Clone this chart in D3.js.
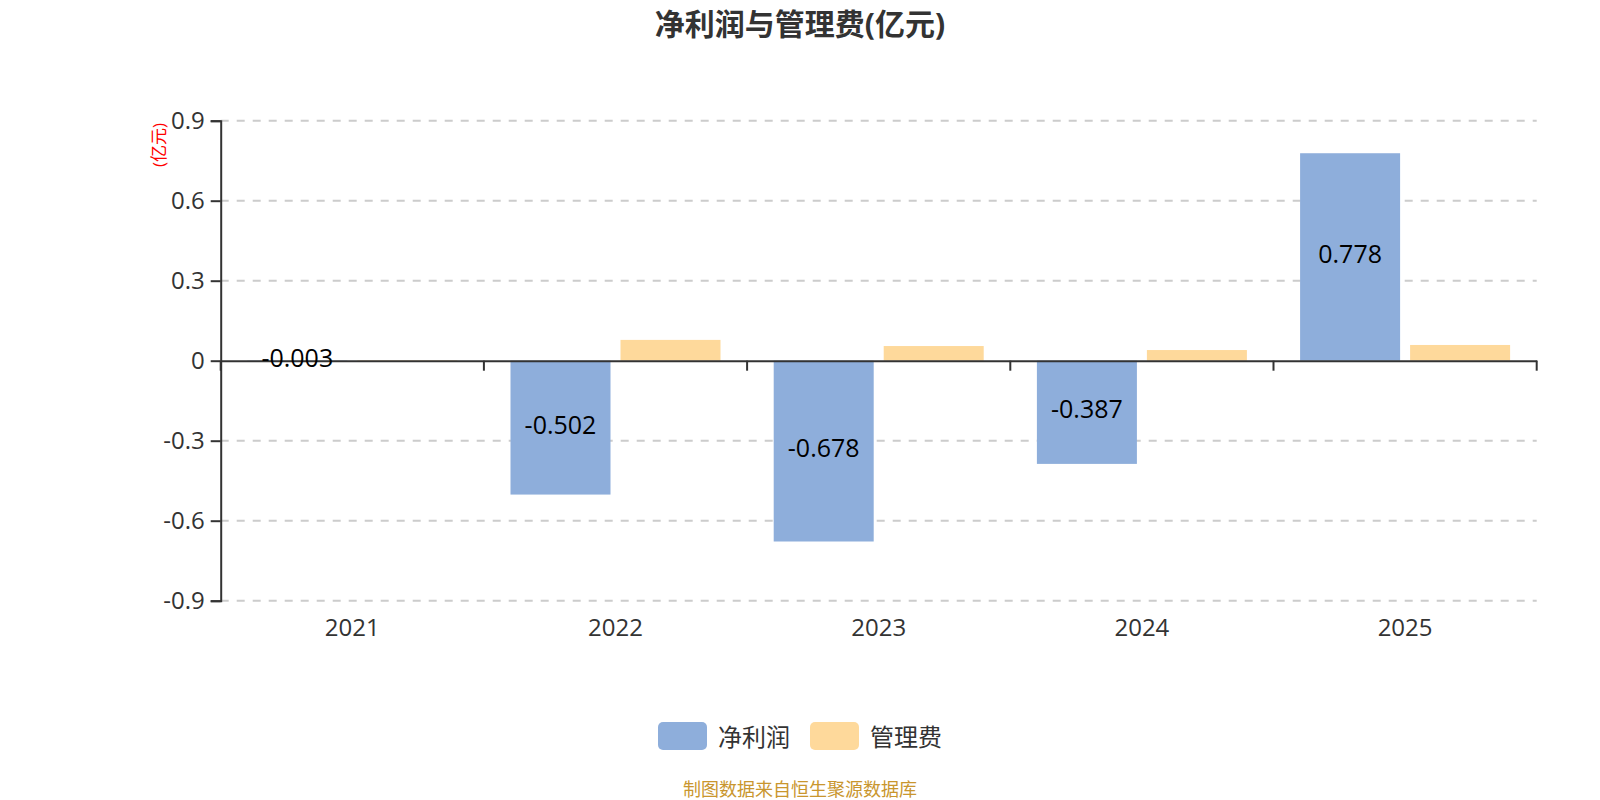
<!DOCTYPE html>
<html>
<head>
<meta charset="utf-8">
<script src="https://cdn.jsdelivr.net/npm/d3@7/dist/d3.min.js"></script>
<style>
  html, body { margin: 0; padding: 0; background: #fff; }
  svg { display: block; }
  text { font-family: "Open Sans", "Noto Sans CJK SC", sans-serif; }
</style>
</head>
<body>
<svg id="chart" width="1600" height="800"></svg>
<script>
const categories = ["2021", "2022", "2023", "2024", "2025"];
const seriesNames = ["净利润", "管理费"];
const netProfit = [-0.003, -0.502, -0.678, -0.387, 0.778];
const adminFee = [0.002, 0.078, 0.055, 0.040, 0.059];
const yTicks = [-0.9, -0.6, -0.3, 0, 0.3, 0.6, 0.9];
const titleText = "净利润与管理费(亿元)";
const unitText = "(亿元)";
const sourceText = "制图数据来自恒生聚源数据库";
const colors = ["#8eaedb", "#fed99b"];

const hy = s => s.replace("\u2212", "-");
const svg = d3.select("#chart");
const margin = { left: 220.7, right: 1536.7, top: 120.7, bottom: 600.7 };

const x0 = d3.scaleBand().domain(categories).range([margin.left, margin.right]).padding(0);
const x1 = d3.scaleBand().domain(seriesNames).range([0, x0.bandwidth()])
  .paddingInner(0.0909).paddingOuter(0.2418);
const y = d3.scaleLinear().domain([-0.9, 0.9]).range([margin.bottom, margin.top]);

// title
svg.append("text").attr("x", 800).attr("y", 23).attr("text-anchor", "middle")
  .attr("dominant-baseline", "central").attr("font-size", 30).attr("font-weight", "bold")
  .attr("fill", "#333").text(titleText);

// gridlines
svg.append("g").selectAll("line").data(yTicks.filter(d => d !== 0)).join("line")
  .attr("x1", margin.left).attr("x2", margin.right)
  .attr("y1", d => y(d)).attr("y2", d => y(d))
  .attr("stroke", "#cccccc").attr("stroke-width", 2).attr("stroke-dasharray", "8,8");

// bars
const data = categories.map((c, i) => ({ cat: c, vals: [netProfit[i], adminFee[i]] }));
const groups = svg.append("g").selectAll("g").data(data).join("g")
  .attr("transform", d => `translate(${x0(d.cat)},0)`);
groups.selectAll("rect").data(d => d.vals.map((v, j) => ({ v, s: seriesNames[j], j }))).join("rect")
  .attr("x", d => x1(d.s)).attr("width", x1.bandwidth())
  .attr("y", d => Math.min(y(d.v), y(0)))
  .attr("height", d => Math.abs(y(d.v) - y(0)))
  .attr("fill", d => colors[d.j]);

// y axis
const yAxis = d3.axisLeft(y).tickValues(yTicks).tickSize(10).tickPadding(6)
  .tickFormat(d => d === 0 ? "0" : hy(d3.format(".1f")(d)));
const gy = svg.append("g").attr("transform", `translate(${margin.left},0)`).call(yAxis);
gy.select(".domain").attr("stroke", "#333").attr("stroke-width", 2);
gy.selectAll(".tick line").attr("stroke", "#333").attr("stroke-width", 2);
gy.selectAll(".tick text").attr("font-size", 24).attr("fill", "#333")
  .attr("font-family", "'Open Sans', 'Noto Sans CJK SC', sans-serif");

// x axis line at zero
const xAxis = d3.axisBottom(x0).tickSize(0).tickFormat("");
const gx = svg.append("g").attr("transform", `translate(0,${y(0)})`).call(xAxis);
gx.select(".domain").attr("stroke", "#333").attr("stroke-width", 2);
// boundary ticks
const bounds = categories.map(c => x0(c)).concat([margin.right]);
svg.append("g").selectAll("line").data(bounds).join("line")
  .attr("x1", d => d).attr("x2", d => d)
  .attr("y1", y(0)).attr("y2", y(0) + 10)
  .attr("stroke", "#333").attr("stroke-width", 2);
// x labels at bottom
svg.append("g").selectAll("text").data(categories).join("text")
  .attr("x", d => x0(d) + x0.bandwidth() / 2).attr("y", 626)
  .attr("text-anchor", "middle").attr("dominant-baseline", "central")
  .attr("font-size", 24).attr("fill", "#333").text(d => d);

// bar labels (net profit)
svg.append("g").selectAll("text").data(data).join("text")
  .attr("x", d => x0(d.cat) + x1(seriesNames[0]) + x1.bandwidth() / 2)
  .attr("y", d => (y(d.vals[0]) + y(0)) / 2 - 4)
  .attr("text-anchor", "middle").attr("dominant-baseline", "central")
  .attr("font-size", 25).attr("fill", "#000").text(d => hy(d3.format(".3f")(d.vals[0])));

// unit label
svg.append("text").attr("transform", "translate(158,145) rotate(-90)")
  .attr("text-anchor", "middle").attr("dominant-baseline", "central")
  .attr("font-size", 17).attr("fill", "#ff0000").text(unitText);

// legend
const legend = svg.append("g");
const legX = [658, 810];
seriesNames.forEach((s, i) => {
  legend.append("rect").attr("x", legX[i]).attr("y", 722).attr("width", 49).attr("height", 28)
    .attr("rx", 5).attr("fill", colors[i]);
  legend.append("text").attr("x", legX[i] + 60).attr("y", 736)
    .attr("dominant-baseline", "central").attr("font-size", 24).attr("fill", "#333").text(s);
});

// source
svg.append("text").attr("x", 800).attr("y", 789).attr("text-anchor", "middle")
  .attr("dominant-baseline", "central").attr("font-size", 18).attr("fill", "#c9962e").text(sourceText);
</script>
</body>
</html>
